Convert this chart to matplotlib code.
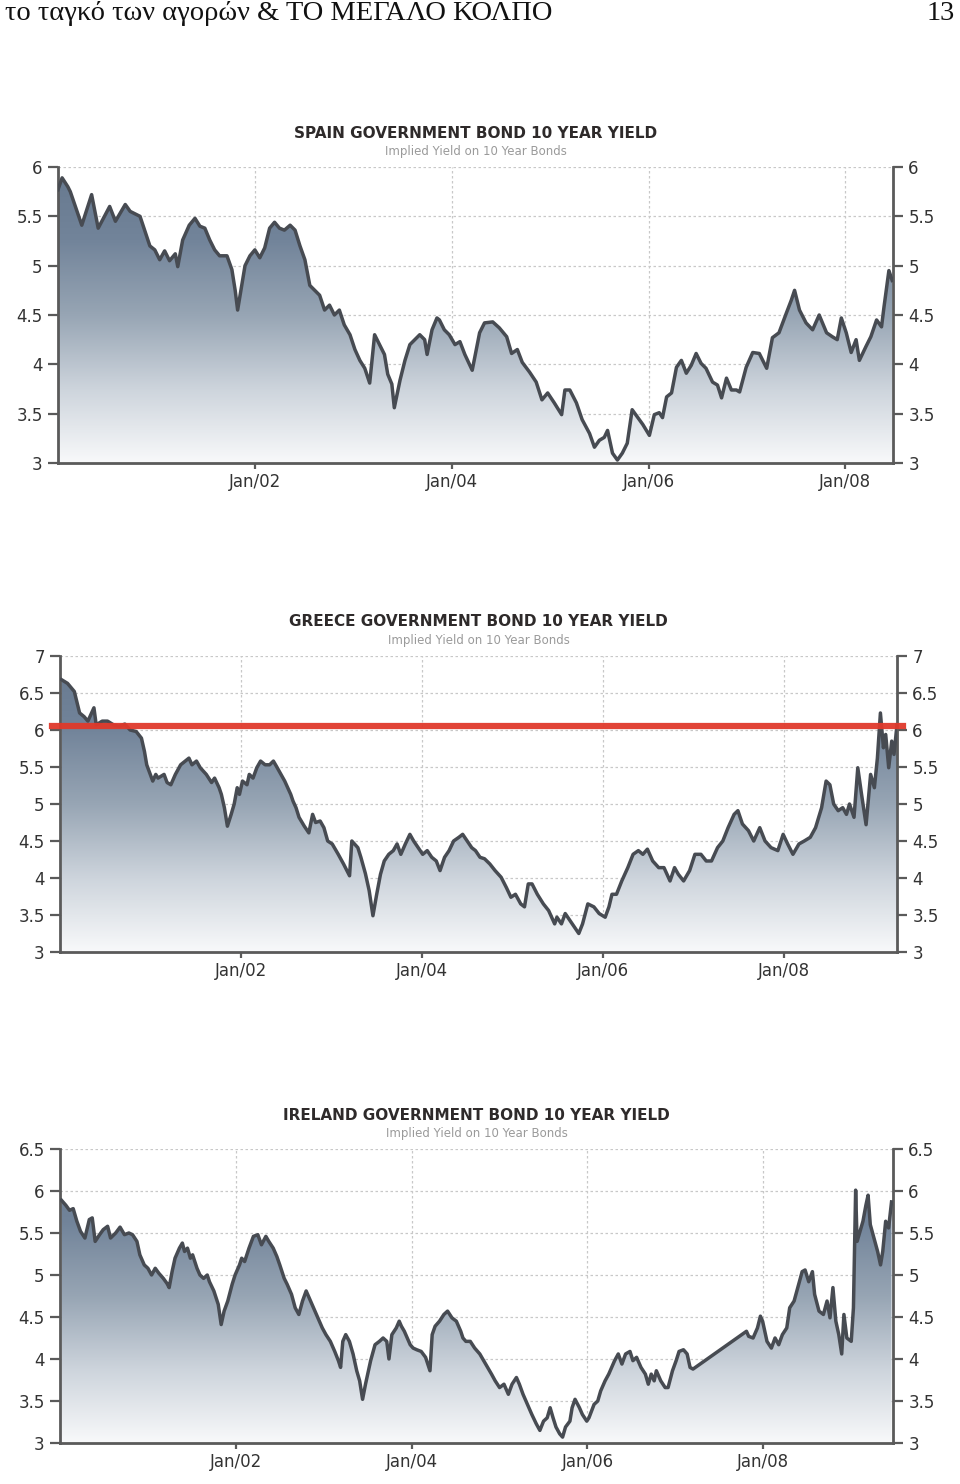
import numpy as np
import matplotlib.pyplot as plt
from matplotlib.colors import LinearSegmentedColormap
from matplotlib.patches import Polygon

# months since Jan 2000 and 10 year yields (%)
spain_months = [0, 0.5, 1.2, 1.5, 2.9, 4.1, 4.9, 6.3, 7, 8.2, 8.8, 10, 11.2, 11.8, 12.4, 13, 13.6,
                14.3, 14.6, 15.2, 16, 16.7, 17.3, 17.9, 18.5, 19.1, 19.7, 20.6, 21.2, 21.6, 21.9,
                22.3, 22.8, 23.4, 24, 24.6, 25.2, 25.8, 26.4, 27, 27.6, 28.3, 28.9, 29.5, 30.1,
                30.7, 31.3, 31.9, 32.5, 33.1, 33.7, 34.3, 34.9, 35.6, 36.2, 36.8, 37.4, 38, 38.6,
                39.2, 39.8, 40.2, 40.7, 41, 41.7, 42.3, 42.9, 43.5, 44.1, 44.7, 45, 45.6, 46.2,
                46.5, 47.1, 47.7, 48.4, 49, 49.6, 50.5, 51.4, 52, 53, 53.8, 54.7, 55.3, 56, 56.6,
                57.5, 58.3, 59, 59.7, 60.5, 61.4, 61.8, 62.4, 63.2, 63.9, 64.8, 65.4, 66, 66.6,
                67, 67.6, 68.2, 68.8, 69.4, 70, 70.6, 71.3, 72.1, 72.7, 73.3, 73.7, 74.2, 74.8,
                75.4, 76, 76.6, 77.2, 77.8, 78.4, 79, 79.8, 80.4, 80.9, 81.5, 82.1, 82.7, 83.1,
                83.9, 84.7, 85.5, 86.4, 87.1, 87.9, 88.8, 89.4, 89.8, 90.4, 91.2, 92, 92.8, 93.7,
                94.4, 95, 95.5, 96.1, 96.7, 97.3, 97.7, 98.5, 99.1, 99.8, 100.4, 100.7, 101.3,
                101.7]
spain_yield = [5.77, 5.89, 5.8, 5.75, 5.41, 5.72, 5.38, 5.6, 5.45, 5.62, 5.55, 5.5, 5.2, 5.16,
               5.06, 5.15, 5.05, 5.12, 4.99, 5.26, 5.41, 5.48, 5.4, 5.38, 5.26, 5.16, 5.1, 5.1,
               4.96, 4.75, 4.55, 4.75, 5.0, 5.1, 5.16, 5.08, 5.18, 5.38, 5.44, 5.38, 5.36, 5.41,
               5.36, 5.2, 5.06, 4.8, 4.75, 4.7, 4.55, 4.6, 4.5, 4.55, 4.4, 4.3, 4.15, 4.04, 3.96,
               3.81, 4.3, 4.2, 4.1, 3.9, 3.8, 3.56, 3.84, 4.04, 4.2, 4.25, 4.3, 4.25, 4.1, 4.35,
               4.47, 4.45, 4.35, 4.3, 4.2, 4.23, 4.1, 3.94, 4.32, 4.42, 4.43, 4.37, 4.28, 4.11,
               4.15, 4.02, 3.92, 3.82, 3.64, 3.71, 3.61, 3.49, 3.74, 3.74, 3.61, 3.44, 3.3, 3.16,
               3.23, 3.26, 3.33, 3.1, 3.03, 3.1, 3.2, 3.54, 3.47, 3.39, 3.28, 3.49, 3.51, 3.46,
               3.67, 3.71, 3.97, 4.04, 3.91, 3.99, 4.11, 4.01, 3.96, 3.82, 3.79, 3.66, 3.86, 3.74,
               3.74, 3.72, 3.97, 4.12, 4.11, 3.96, 4.27, 4.32, 4.52, 4.65, 4.75, 4.55, 4.42, 4.35,
               4.5, 4.32, 4.28, 4.25, 4.47, 4.32, 4.12, 4.25, 4.04, 4.18, 4.28, 4.45, 4.38, 4.58,
               4.95, 4.85]

greece_months = [0.2, 1.0, 1.9, 2.6, 3.2, 3.7, 4.5, 4.8, 5.6, 6.3, 7.1, 7.8, 8.6, 9.3, 10.1,
                 10.8, 11.2, 11.5, 12.3, 12.7, 13, 13.8, 14.2, 14.7, 15.3, 16, 16.6, 17.1, 17.5,
                 18.1, 18.6, 19.4, 20.1, 20.5, 21.1, 21.4, 21.8, 22.2, 22.7, 23.1, 23.5, 23.8,
                 24.2, 24.8, 25.1, 25.6, 26.1, 26.6, 27.2, 27.8, 28.3, 28.7, 29.3, 29.8, 30.2,
                 30.6, 30.9, 31.3, 31.7, 32.4, 33, 33.5, 33.9, 34.5, 35, 35.5, 36.1, 36.9, 37.6,
                 38.4, 38.7, 39.5, 39.9, 40.5, 41, 41.5, 42, 42.5, 43, 43.6, 44.2, 44.7, 45.2,
                 45.8, 46.4, 46.9, 47.5, 48.1, 48.7, 49.3, 49.9, 50.4, 51, 51.6, 52.2, 52.9, 53.4,
                 54, 54.6, 55.1, 55.7, 56.3, 57, 57.7, 58.5, 59.2, 59.8, 60.4, 61.1, 61.6, 62.1,
                 62.6, 63.3, 64.1, 64.8, 65.6, 65.9, 66.5, 67, 67.6, 68.2, 68.8, 69.3, 70, 70.8,
                 71.5, 72.3, 72.8, 73.2, 73.8, 74.5, 75.3, 76, 76.7, 77.3, 77.9, 78.6, 79.4, 80.1,
                 80.9, 81.5, 82, 82.7, 83.5, 84.2, 85, 85.7, 86.4, 87.2, 87.9, 88.6, 89.4, 89.9,
                 90.5, 91.3, 92, 92.8, 93.5, 94.3, 95.2, 95.9, 96.5, 97.2, 98, 98.7, 99.5, 100.2,
                 101, 101.6, 102.1, 102.6, 103.2, 103.8, 104.3, 104.7, 105.3, 105.8, 106.3, 106.9,
                 107.5, 108, 108.4, 108.8, 109.2, 109.5, 109.9, 110.3, 110.6, 111]
greece_yield = [6.68, 6.63, 6.52, 6.23, 6.18, 6.12, 6.3, 6.07, 6.12, 6.12, 6.07, 6.05, 6.08, 6.0,
                5.98, 5.89, 5.71, 5.53, 5.31, 5.4, 5.35, 5.4, 5.29, 5.26, 5.4, 5.53, 5.58, 5.62,
                5.53, 5.58, 5.49, 5.4, 5.29, 5.35, 5.22, 5.13, 4.95, 4.7, 4.86, 5.0, 5.22, 5.13,
                5.31, 5.26, 5.4, 5.35, 5.49, 5.58, 5.53, 5.53, 5.58, 5.51, 5.4, 5.31, 5.22, 5.13,
                5.04, 4.95, 4.82, 4.7, 4.61, 4.86, 4.75, 4.77, 4.68, 4.5, 4.46, 4.32, 4.19, 4.03,
                4.5, 4.41, 4.28, 4.06, 3.83, 3.49, 3.78, 4.05, 4.23, 4.32, 4.37, 4.46, 4.32, 4.46,
                4.59, 4.5, 4.41, 4.32, 4.37, 4.28, 4.23, 4.1, 4.28, 4.37, 4.5, 4.55, 4.59, 4.5,
                4.41, 4.37, 4.28, 4.26, 4.19, 4.1, 4.01, 3.87, 3.74, 3.78, 3.65, 3.61, 3.92, 3.92,
                3.78, 3.65, 3.56, 3.38, 3.47, 3.38, 3.52, 3.43, 3.34, 3.25, 3.38, 3.65, 3.61, 3.52,
                3.47, 3.61, 3.78, 3.78, 3.96, 4.14, 4.32, 4.37, 4.32, 4.39, 4.23, 4.14, 4.14, 3.96,
                4.14, 4.05, 3.96, 4.1, 4.32, 4.32, 4.23, 4.23, 4.41, 4.5, 4.68, 4.86, 4.91, 4.73,
                4.64, 4.5, 4.68, 4.5, 4.41, 4.37, 4.59, 4.46, 4.32, 4.46, 4.5, 4.55, 4.68, 4.95,
                5.31, 5.26, 5.0, 4.91, 4.95, 4.86, 5.0, 4.82, 5.49, 5.13, 4.72, 5.4, 5.22, 5.62,
                6.23, 5.76, 5.94, 5.49, 5.85, 5.67, 6.07]
greece_threshold = 6.05

ireland_months = [0.2, 0.8, 1.3, 1.8, 2.3, 2.8, 3.4, 4, 4.4, 4.8, 5.4, 5.9, 6.5, 6.9, 7.6, 8.2,
                  8.8, 9.4, 9.9, 10.5, 10.9, 11.5, 12, 12.5, 13, 13.5, 14.1, 14.6, 14.9, 15.3,
                  15.7, 16.3, 16.7, 17, 17.4, 17.8, 18.1, 18.7, 19.1, 19.6, 20.1, 20.4, 21, 21.6,
                  22, 22.4, 22.9, 23.5, 23.9, 24.5, 24.8, 25.2, 25.8, 26.4, 27, 27.5, 28.1, 28.5,
                  29.1, 29.6, 30, 30.6, 31, 31.6, 32.1, 32.6, 33.1, 33.6, 34.2, 34.6, 35.2, 35.8,
                  36.3, 36.9, 37.5, 38, 38.3, 38.6, 39, 39.5, 40, 40.5, 40.9, 41.3, 41.7, 42, 42.4,
                  43, 43.6, 44.1, 44.6, 44.9, 45.3, 45.9, 46.3, 46.6, 47, 47.4, 47.8, 48.2, 48.7,
                  49.3, 49.9, 50.5, 50.8, 51.2, 51.8, 52.4, 52.9, 53.5, 54.1, 54.7, 55, 55.4, 56,
                  56.6, 57.3, 58.1, 58.9, 59.4, 60, 60.6, 61.2, 61.7, 62.3, 62.7, 63.2, 63.8, 64.4,
                  65, 65.5, 66, 66.5, 66.9, 67.3, 67.7, 68.2, 68.6, 69, 69.6, 69.9, 70.3, 70.9,
                  71.3, 71.9, 72.2, 72.9, 73.4, 73.8, 74.4, 74.9, 75.3, 75.7, 76.2, 76.7, 77.2,
                  77.8, 78.2, 78.7, 79.3, 79.9, 80.3, 80.7, 81.1, 81.4, 82, 82.6, 83, 83.6, 84.1,
                  84.5, 85.1, 85.6, 86, 86.4, 93.7, 94, 94.6, 95.2, 95.6, 95.9, 96.5, 97.1, 97.6,
                  98.1, 98.6, 99.2, 99.6, 100.2, 100.7, 101.3, 101.7, 102.2, 102.7, 103, 103.6,
                  104.2, 104.7, 105.1, 105.5, 105.9, 106.3, 106.7, 107, 107.4, 108, 108.3, 108.6,
                  108.8, 109.2, 109.6, 110, 110.3, 110.6, 111.1, 111.6, 112, 112.3, 112.7, 113.1,
                  113.5]
ireland_yield = [5.89, 5.83, 5.77, 5.79, 5.64, 5.52, 5.44, 5.66, 5.68, 5.4, 5.48, 5.54, 5.58,
                 5.44, 5.5, 5.57, 5.48, 5.5, 5.48, 5.4, 5.24, 5.12, 5.08, 5.0, 5.08, 5.02, 4.96,
                 4.9, 4.85, 5.04, 5.2, 5.32, 5.38, 5.28, 5.32, 5.2, 5.24, 5.08, 5.0, 4.96, 5.0,
                 4.92, 4.81, 4.65, 4.41, 4.57, 4.69, 4.89, 5.0, 5.12, 5.2, 5.16, 5.32, 5.46, 5.48,
                 5.36, 5.46, 5.4, 5.32, 5.22, 5.12, 4.96, 4.89, 4.77, 4.61, 4.53, 4.69, 4.81, 4.69,
                 4.61, 4.49, 4.37, 4.29, 4.21, 4.09, 3.98, 3.9, 4.21, 4.29, 4.21, 4.06, 3.86, 3.74,
                 3.52, 3.7, 3.82, 3.98, 4.17, 4.21, 4.25, 4.21, 4.0, 4.29, 4.37, 4.45, 4.39, 4.33,
                 4.25, 4.17, 4.13, 4.11, 4.09, 4.02, 3.86, 4.29, 4.39, 4.45, 4.53, 4.57, 4.49, 4.45,
                 4.33, 4.25, 4.21, 4.21, 4.13, 4.06, 3.94, 3.82, 3.74, 3.66, 3.7, 3.58, 3.7, 3.78,
                 3.7, 3.58, 3.46, 3.34, 3.23, 3.15, 3.26, 3.3, 3.42, 3.3, 3.19, 3.11, 3.07, 3.19,
                 3.26, 3.42, 3.52, 3.42, 3.34, 3.26, 3.3, 3.46, 3.5, 3.62, 3.74, 3.82, 3.9, 3.98,
                 4.06, 3.94, 4.06, 4.09, 3.98, 4.02, 3.9, 3.82, 3.7, 3.82, 3.74, 3.86, 3.74, 3.66,
                 3.66, 3.86, 3.98, 4.09, 4.11, 4.06, 3.9, 3.88, 4.33, 4.27, 4.25, 4.37, 4.51, 4.45,
                 4.21, 4.13, 4.25, 4.17, 4.29, 4.37, 4.61, 4.69, 4.85, 5.04, 5.06, 4.92, 5.04, 4.77,
                 4.57, 4.53, 4.69, 4.49, 4.85, 4.45, 4.29, 4.06, 4.53, 4.25, 4.21, 4.61, 6.01, 5.4,
                 5.52, 5.64, 5.83, 5.95, 5.6, 5.44, 5.28, 5.12, 5.28, 5.64, 5.56, 5.87]

year_ticks = [2002, 2004, 2006, 2008]
year_labels = ["Jan/02", "Jan/04", "Jan/06", "Jan/08"]

fill_cmap = LinearSegmentedColormap.from_list(
    "slate", ["#f8f9fa", "#cdd4dc", "#97a5b4", "#72849a", "#66788e"])


def draw_chart(rect, months, yields, yticks, title, end_month):
    ax = fig.add_axes(rect)
    x = 2000 + np.array(months) / 12.0
    y = np.array(yields)
    ymin, ymax = yticks[0], yticks[-1]
    xmax = 2000 + end_month / 12.0

    # gradient fill under the line, clipped to the area below the series
    grad = np.linspace(0, 1, 256).reshape(-1, 1)
    im = ax.imshow(grad, extent=[2000, xmax, ymin, ymax], origin="lower",
                   aspect="auto", cmap=fill_cmap, zorder=1)
    verts = np.vstack([[x[0], ymin], np.column_stack([x, y]), [x[-1], ymin]])
    clip = Polygon(verts, closed=True, transform=ax.transData)
    im.set_clip_path(clip)

    ax.plot(x, y, color="#474b52", lw=2.5, solid_joinstyle="round", zorder=3)

    ax.set_xlim(2000, xmax)
    ax.set_ylim(ymin, ymax)
    ax.set_yticks(yticks)
    ax.set_yticklabels([f"{t:g}" for t in yticks])
    ax.set_xticks(year_ticks)
    ax.set_xticklabels(year_labels)
    ax.grid(True, color="#c8c8c8", linestyle=(0, (2, 2)), lw=0.9, zorder=0)
    ax.set_axisbelow(True)

    ax.spines["top"].set_visible(False)
    for side in ["left", "right", "bottom"]:
        ax.spines[side].set_color("#5a5a5a")
        ax.spines[side].set_linewidth(2)
    ax.tick_params(axis="y", left=True, right=True, labelleft=True, labelright=True,
                   direction="out", length=7, width=1.6, color="#5a5a5a",
                   labelsize=12, labelcolor="#333333", pad=4)
    ax.tick_params(axis="x", direction="out", length=4, width=1.6, color="#5a5a5a",
                   labelsize=12, labelcolor="#333333", pad=3)

    ax.text(0.5, 1.0 + 34 / (rect[3] * 1484), title, transform=ax.transAxes,
            ha="center", va="center", fontsize=11, fontweight="bold", color="#2e2a2a")
    ax.text(0.5, 1.0 + 15 / (rect[3] * 1484), "Implied Yield on 10 Year Bonds",
            transform=ax.transAxes, ha="center", va="center", fontsize=8.5, color="#9a9a9a")
    return ax


fig = plt.figure(figsize=(9.6, 14.84), dpi=100)

draw_chart([58 / 960, 1 - 463 / 1484, 835 / 960, 296 / 1484], spain_months, spain_yield,
           [3, 3.5, 4, 4.5, 5, 5.5, 6], "SPAIN GOVERNMENT BOND 10 YEAR YIELD", 101.8)

ax_gr = draw_chart([60 / 960, 1 - 952 / 1484, 837 / 960, 296 / 1484], greece_months,
                   greece_yield, [3, 3.5, 4, 4.5, 5, 5.5, 6, 6.5, 7],
                   "GREECE GOVERNMENT BOND 10 YEAR YIELD", 111.0)
ax_gr.axhline(greece_threshold, xmin=-0.01, xmax=1.007, color="#e0392b", lw=4.5,
              alpha=0.95, clip_on=False, zorder=5)

draw_chart([60 / 960, 1 - 1443 / 1484, 833 / 960, 294 / 1484], ireland_months, ireland_yield,
           [3, 3.5, 4, 4.5, 5, 5.5, 6, 6.5], "IRELAND GOVERNMENT BOND 10 YEAR YIELD", 113.7)

# page header
fig.text(5 / 960, 1 - 1 / 1484, "το ταγκό των αγορών & ΤΟ ΜΕΓΑΛΟ ΚΟΛΠΟ", ha="left", va="top",
         fontsize=20.5, family="Liberation Serif", color="#111111")
fig.text(955 / 960, 1 - 1 / 1484, "13", ha="right", va="top",
         fontsize=20.5, family="Liberation Serif", color="#111111")

fig.savefig("out.png", dpi=100, facecolor="white")
